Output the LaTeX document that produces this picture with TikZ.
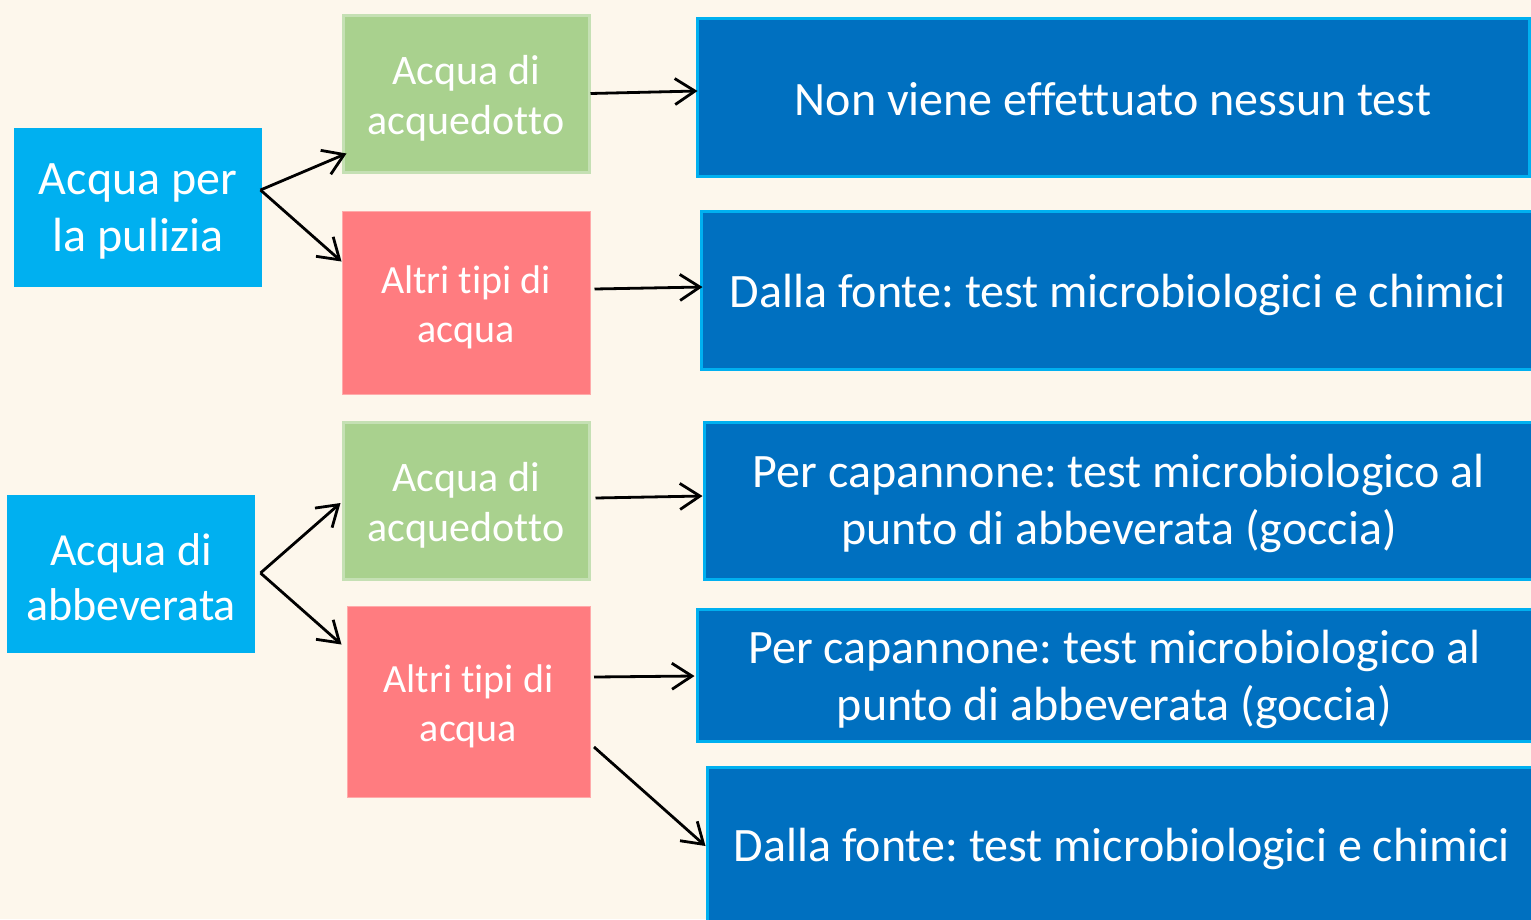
\documentclass[tikz,border=0pt]{standalone}
\usepackage{fontspec}
\setmainfont[Ligatures=NoCommon]{Carlito}
\frenchspacing
\usetikzlibrary{arrows.meta,calc}
\definecolor{bg}{RGB}{253,247,236}
\definecolor{cyanbox}{RGB}{0,176,240}
\definecolor{bluebox}{RGB}{0,112,192}
\definecolor{greenbox}{RGB}{169,209,142}
\definecolor{greenedge}{RGB}{197,224,180}
\definecolor{redbox}{RGB}{255,124,128}
\definecolor{rededge}{RGB}{255,170,170}
\tikzset{
  box/.style={inner sep=0pt, line width=3pt},
  txt/.style={inner sep=0pt, align=center, text=white},
  leftbox/.style={box, fill=cyanbox},
  greenb/.style={box, fill=greenbox, draw=greenedge},
  redb/.style={box, fill=redbox, draw=rededge, line width=1pt},
  blueb/.style={box, fill=bluebox, draw=cyanbox},
  lefttxt/.style={txt, font=\fontsize{46}{55}\selectfont},
  greentxt/.style={txt, font=\fontsize{42}{50}\selectfont},
  redtxt/.style={txt, font=\fontsize{40}{49}\selectfont},
  bluetxt/.style={txt, font=\fontsize{48}{57}\selectfont},
  conn/.style={line width=2.8pt, -{Straight Barb[length=20pt,width=26pt,line width=2.8pt]}}
}
\begin{document}
\begin{tikzpicture}[x=1pt,y=-1pt]
\fill[bg] (0,0) rectangle (1531,919);
\useasboundingbox (0,0) rectangle (1531,919);
% left
\node[leftbox, minimum width=248pt, minimum height=159pt] (lp) at (138,207.5) {};
\node[lefttxt, font=\fontsize{48}{57}\selectfont] (lpt) at ($(lp.center)+(0,4)$) {Acqua per\\la pulizia};
\node[leftbox, minimum width=248pt, minimum height=158pt] (la) at (131,574) {};
\node[lefttxt] (lat) at ($(la.center)+(0,3)$) {Acqua di\\abbeverata};
% middle
\node[greenb, minimum width=246pt, minimum height=157pt] (ga) at (466,93.5) {};
\node[greentxt] (gat) at ($(ga.center)+(0,5)$) {Acqua di\\acquedotto};
\node[redb, minimum width=248pt, minimum height=183pt] (ra) at (466,302.5) {};
\node[redtxt] (rat) at ($(ra.center)+(0,5)$) {Altri tipi di\\acqua};
\node[greenb, minimum width=246pt, minimum height=157pt] (gb) at (466,500.5) {};
\node[greentxt] (gbt) at ($(gb.center)+(0,5)$) {Acqua di\\acquedotto};
\node[redb, minimum width=243pt, minimum height=191pt] (rb) at (468.5,701.5) {};
\node[redtxt] (rbt) at ($(rb.center)+(0,5)$) {Altri tipi di\\acqua};
% right
\node[blueb, minimum width=832pt, minimum height=158pt] (b1) at (1113,97) {};
\node[bluetxt] (b1t) at ($(b1.center)+(0,2)$) {Non viene effettuato nessun test};
\node[blueb, minimum width=834pt, minimum height=158pt] (b2) at (1118,290) {};
\node[bluetxt] (b2t) at ($(b2.center)+(0,5)$) {Dalla fonte: test microbiologici e chimici};
\node[blueb, minimum width=830pt, minimum height=157pt] (b3) at (1119,500.5) {};
\node[bluetxt] (b3t) at ($(b3.center)+(0,3)$) {Per capannone: test microbiologico al\\punto di abbeverata (goccia)};
\node[blueb, minimum width=835pt, minimum height=132pt] (b4) at (1114.5,675) {};
\node[bluetxt] (b4t) at ($(b4.center)+(0,4)$) {Per capannone: test microbiologico al\\punto di abbeverata (goccia)};
\node[blueb, minimum width=830pt, minimum height=160pt] (b5) at (1122,847) {};
\node[bluetxt] (b5t) at ($(b5.center)+(0,2)$) {Dalla fonte: test microbiologici e chimici};
% connectors
\draw[conn] ($(lp.east)+(-3,-17.5)$) -- ($(ga.south west)+(5,-20)$);
\draw[conn] ($(lp.east)+(-3,-17.5)$) -- ($(ra.north west)+(0,51)$);
\draw[conn] (ga.east) -- ($(b1.west)+(2,-6)$);
\draw[conn] ($(ra.east)+(4,-13.5)$) -- ($(b2.west)+(3,-3)$);
\draw[conn] ($(la.east)+(4,-1)$) -- ($(gb.west)+(-1,2.5)$);
\draw[conn] ($(la.east)+(4,-1)$) -- ($(rb.north west)+(-5,39)$);
\draw[conn] ($(gb.east)+(5,-2.5)$) -- ($(b3.west)+(0,-4.5)$);
\draw[conn] ($(rb.east)+(3.5,-24.5)$) -- ($(b4.west)+(-1,1)$);
\draw[conn] ($(rb.east)+(3.5,45.5)$) -- ($(b5.west)+(0,-1)$);
\end{tikzpicture}
\end{document}
